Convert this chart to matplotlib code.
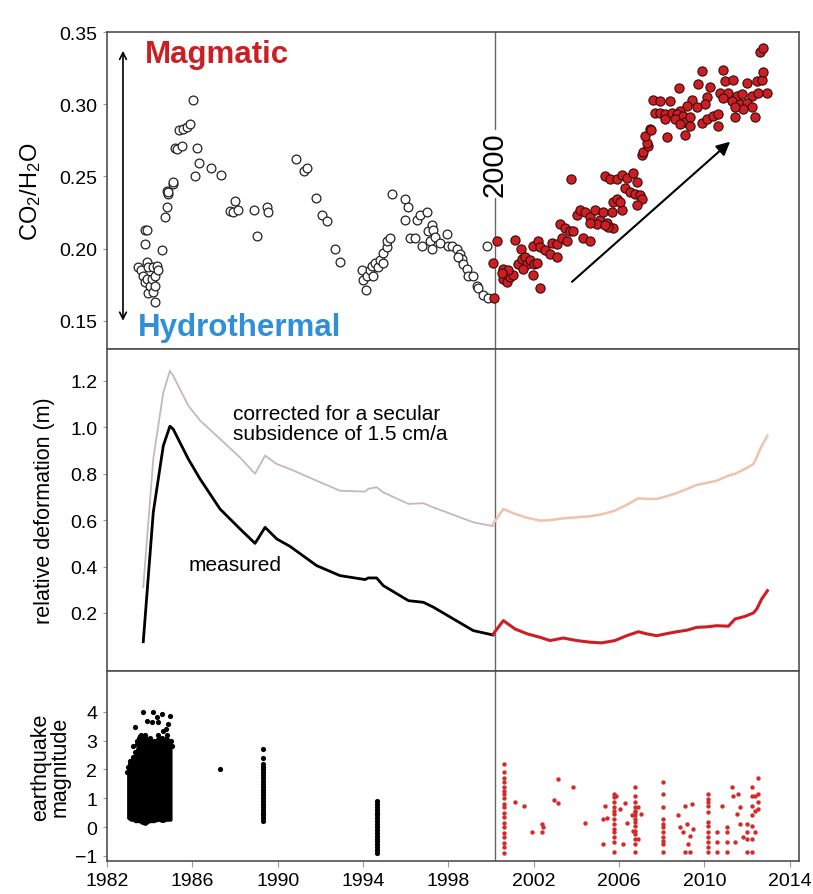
import numpy as np
import matplotlib
matplotlib.use("Agg")
import matplotlib.pyplot as plt

plt.rcParams['font.family'] = ['Liberation Sans', 'DejaVu Sans']
plt.rcParams['mathtext.fontset'] = 'custom'
plt.rcParams['mathtext.rm'] = 'Liberation Sans'
plt.rcParams['mathtext.it'] = 'Liberation Sans:italic'

# --- CO2/H2O ratio, before 2000 (open circles) ---
gas_old_t = [1983.47, 1983.59, 1983.70, 1983.78, 1983.78, 1983.78, 1983.86, 1983.86, 1983.86, 1983.94,
             1983.94, 1984.02, 1984.09, 1984.17, 1984.17, 1984.25, 1984.25, 1984.25, 1984.33, 1984.41,
             1984.56, 1984.72, 1984.80, 1984.80, 1984.88, 1984.88, 1985.11, 1985.11, 1985.19, 1985.30,
             1985.50, 1985.39, 1985.58, 1985.77, 1985.89, 1986.02, 1986.20, 1986.33, 1986.13, 1986.88,
             1987.34, 1987.77, 1987.92, 1988.00, 1988.16, 1988.89, 1989.02, 1989.48, 1989.53, 1990.84,
             1991.24, 1991.39, 1991.80, 1992.06, 1992.30, 1992.69, 1992.92, 1993.94, 1994.02, 1994.13,
             1994.17, 1994.33, 1994.41, 1994.48, 1994.56, 1994.72, 1994.80, 1994.95, 1994.95, 1995.11,
             1995.11, 1995.27, 1995.38, 1995.97, 1996.13, 1995.97, 1996.20, 1996.44, 1996.52, 1996.67,
             1996.98, 1996.75, 1997.06, 1997.22, 1997.30, 1997.14, 1997.38, 1997.61, 1997.22, 1997.92,
             1998.00, 1998.16, 1998.39, 1998.55, 1998.63, 1998.47, 1998.70, 1998.86, 1998.94, 1999.17,
             1999.33, 1999.41, 1999.64, 1999.88, 1999.80]
gas_old_v = [0.187, 0.185, 0.181, 0.213, 0.203, 0.177, 0.191, 0.179, 0.213, 0.187,
             0.169, 0.174, 0.179, 0.187, 0.170, 0.181, 0.174, 0.163, 0.188, 0.185,
             0.199, 0.222, 0.229, 0.240, 0.238, 0.239, 0.245, 0.246, 0.270, 0.269,
             0.271, 0.282, 0.283, 0.284, 0.286, 0.303, 0.270, 0.259, 0.250, 0.256,
             0.251, 0.226, 0.225, 0.233, 0.227, 0.227, 0.209, 0.229, 0.225, 0.262,
             0.254, 0.256, 0.235, 0.223, 0.219, 0.200, 0.191, 0.185, 0.178, 0.171,
             0.181, 0.185, 0.188, 0.181, 0.190, 0.187, 0.192, 0.190, 0.197, 0.201,
             0.205, 0.207, 0.238, 0.234, 0.229, 0.220, 0.207, 0.207, 0.220, 0.223,
             0.225, 0.202, 0.212, 0.216, 0.213, 0.205, 0.208, 0.204, 0.200, 0.210,
             0.202, 0.202, 0.200, 0.196, 0.193, 0.194, 0.189, 0.186, 0.181, 0.181,
             0.174, 0.173, 0.168, 0.166, 0.202]

# --- CO2/H2O ratio, after 2000 (red dots) ---
gas_new_t = [2000.14, 2000.11, 2000.30, 2001.13, 2001.39, 2000.58, 2000.66, 2000.55, 2000.74, 2000.89,
             2001.05, 2000.82, 2000.50, 2001.28, 2001.44, 2001.60, 2001.67, 2001.83, 2002.02, 2002.14,
             2001.52, 2001.96, 2002.30, 2001.99, 2002.22, 2002.30, 2002.53, 2002.77, 2003.08, 2002.85,
             2003.08, 2003.32, 2003.55, 2003.24, 2003.47, 2003.71, 2003.86, 2003.74, 2004.02, 2004.17,
             2004.41, 2004.64, 2004.88, 2005.11, 2005.27, 2005.42, 2005.66, 2005.74, 2005.89, 2006.13,
             2005.74, 2005.50, 2004.96, 2004.64, 2004.33, 2004.64, 2005.35, 2005.35, 2005.58, 2005.89,
             2006.13, 2006.36, 2006.67, 2006.83, 2006.28, 2006.52, 2006.75, 2006.99, 2007.07, 2006.83,
             2006.05, 2007.06, 2007.14, 2007.38, 2007.30, 2007.22, 2007.45, 2007.49,
             2008.24, 2009.09, 2007.61, 2007.92, 2008.39, 2008.81, 2009.72, 2010.27, 2009.88, 2010.86,
             2010.97, 2011.36, 2011.98, 2012.45, 2012.69, 2012.77, 2012.61, 2012.77, 2010.74, 2011.13,
             2011.52, 2011.75, 2012.22, 2012.53, 2012.92, 2010.11, 2010.03, 2009.41, 2009.17, 2009.64,
             2008.86, 2007.69, 2007.92, 2008.16, 2008.47, 2008.70, 2009.02, 2008.63, 2008.16, 2009.09,
             2009.33, 2008.86, 2009.33, 2009.88, 2010.11, 2010.42, 2010.66, 2010.66, 2011.44, 2012.38,
             2010.89, 2011.28, 2011.67, 2011.98, 2012.22, 2011.83, 2011.44]
gas_new_v = [0.166, 0.190, 0.205, 0.206, 0.200, 0.186, 0.182, 0.179, 0.177, 0.180,
             0.182, 0.185, 0.183, 0.189, 0.193, 0.194, 0.189, 0.192, 0.189, 0.190,
             0.186, 0.182, 0.173, 0.202, 0.205, 0.201, 0.199, 0.196, 0.194, 0.204,
             0.203, 0.207, 0.205, 0.217, 0.214, 0.212, 0.212, 0.248, 0.223, 0.227,
             0.225, 0.222, 0.227, 0.220, 0.225, 0.218, 0.225, 0.232, 0.234, 0.227,
             0.214, 0.215, 0.217, 0.218, 0.207, 0.205, 0.216, 0.250, 0.248, 0.248,
             0.251, 0.249, 0.252, 0.246, 0.242, 0.239, 0.238, 0.237, 0.234, 0.230,
             0.232, 0.265, 0.267, 0.271, 0.273, 0.278, 0.283, 0.282,
             0.277, 0.279, 0.303, 0.302, 0.302, 0.311, 0.314, 0.312, 0.323, 0.324,
             0.316, 0.317, 0.315, 0.316, 0.317, 0.322, 0.336, 0.339, 0.308, 0.308,
             0.306, 0.307, 0.306, 0.308, 0.308, 0.305, 0.300, 0.303, 0.299, 0.298,
             0.295, 0.294, 0.294, 0.293, 0.294, 0.293, 0.292, 0.290, 0.290, 0.288,
             0.291, 0.286, 0.285, 0.287, 0.290, 0.292, 0.293, 0.285, 0.291, 0.291,
             0.304, 0.302, 0.300, 0.301, 0.298, 0.297, 0.298]

# --- ground deformation ---
def_old_t = [1983.70, 1984.17, 1984.64, 1984.95, 1985.10, 1985.81, 1986.36, 1987.30, 1988.24, 1988.94,
             1989.41, 1989.96, 1990.58, 1991.83, 1992.92, 1994.10, 1994.25, 1994.64, 1994.95, 1996.13,
             1996.83, 1997.30, 1999.17, 2000.10]
measured_old = [0.076, 0.634, 0.921, 1.005, 0.993, 0.864, 0.778, 0.648, 0.562, 0.500,
                0.569, 0.519, 0.487, 0.404, 0.361, 0.344, 0.351, 0.351, 0.318, 0.253,
                0.246, 0.225, 0.124, 0.105]
corrected_old = [0.311, 0.864, 1.151, 1.244, 1.223, 1.094, 1.030, 0.950, 0.870, 0.800,
                 0.878, 0.842, 0.820, 0.770, 0.727, 0.723, 0.735, 0.742, 0.720, 0.670,
                 0.673, 0.655, 0.591, 0.574]

def_new_t = [2000.10, 2000.58, 2001.13, 2001.70, 2002.30, 2002.77, 2003.39, 2004.02, 2004.64, 2005.19,
             2005.81, 2006.36, 2006.91, 2007.30, 2007.77, 2008.30, 2008.71, 2009.20, 2009.64, 2010.10,
             2010.58, 2011.13, 2011.44, 2011.90, 2012.30, 2012.46, 2012.69, 2012.96]
measured_new = [0.109, 0.167, 0.131, 0.110, 0.095, 0.081, 0.092, 0.081, 0.074, 0.071,
                0.081, 0.102, 0.119, 0.110, 0.102, 0.112, 0.119, 0.126, 0.138, 0.140,
                0.145, 0.143, 0.174, 0.185, 0.200, 0.217, 0.260, 0.296]
corrected_new = [0.584, 0.648, 0.627, 0.610, 0.598, 0.600, 0.608, 0.612, 0.617, 0.625,
                 0.641, 0.666, 0.694, 0.692, 0.691, 0.705, 0.717, 0.735, 0.752, 0.760,
                 0.770, 0.792, 0.800, 0.820, 0.842, 0.871, 0.920, 0.964]

# --- earthquakes ---
eq_block_t = [1982.92, 1983.00, 1983.10, 1983.20, 1983.30, 1983.40, 1983.50, 1983.60, 1983.80, 1984.00,
              1984.20, 1984.40, 1984.60, 1984.80, 1985.00, 1985.05]
eq_block_top = [1.9, 2.1, 2.2, 2.4, 2.6, 2.9, 3.1, 3.2, 3.2, 3.1, 3.0, 3.2, 3.1, 3.2, 3.0, 2.8]
eq_block_bot = [0.3, 0.25, 0.2, 0.2, 0.15, 0.15, 0.15, 0.1, 0.05, 0.15, 0.15, 0.2, 0.15, 0.2, 0.2, 0.25]

eq_black_t = [1983.23, 1983.23, 1983.31, 1983.55, 1983.70, 1983.86, 1984.09, 1984.17, 1984.33, 1984.41,
              1984.56, 1984.64, 1984.88, 1984.95, 1983.10, 1983.40, 1984.75, 1987.30] + \
             [1989.33] * 23 + [1994.64] * 19
eq_black_m = [2.42, 2.82, 3.46, 3.17, 3.98, 3.69, 3.63, 3.98, 3.81, 3.63,
              3.92, 3.34, 3.58, 3.86, 2.3, 3.0, 3.4, 2.0] + \
             [2.7, 2.4, 2.2, 2.1, 2.0, 1.9, 1.8, 1.7, 1.6, 1.5, 1.4, 1.3, 1.2, 1.1, 1.0, 0.9,
              0.8, 0.7, 0.6, 0.5, 0.4, 0.3, 0.2] + \
             [0.9, 0.8, 0.7, 0.6, 0.5, 0.4, 0.3, 0.2, 0.1, 0.0, -0.1, -0.2, -0.3, -0.4, -0.5,
              -0.6, -0.7, -0.8, -0.9]

eq_red_t = [2000.61] * 19 + [2001.13, 2001.56, 2001.91, 2002.41, 2002.46, 2002.41, 2002.97, 2003.16,
            2003.13, 2003.86, 2004.41, 2005.27, 2005.35, 2005.42, 2005.27] + [2005.77] * 13 + \
           [2005.86, 2006.05, 2006.21, 2006.28, 2006.36] + [2006.75] * 15 + \
           [2006.60, 2006.90, 2007.05, 2006.68, 2006.90] + [2008.05] * 11 + \
           [2008.78, 2008.86, 2009.10, 2009.02, 2009.25, 2009.33, 2009.41, 2009.49, 2009.17, 2009.10,
            2009.33] + [2010.19] * 12 + \
           [2010.58, 2010.58, 2010.58, 2010.82, 2011.05, 2011.05, 2011.05, 2011.05, 2011.28, 2011.36,
            2011.44, 2011.52, 2011.60, 2011.67, 2011.67, 2011.83, 2011.99, 2011.99, 2011.99, 2011.99] + \
           [2012.22] * 7 + [2012.38] * 3 + [2012.53] * 4
eq_red_m = [2.2, 1.9, 1.7, 1.55, 1.4, 1.25, 1.15, 1.0, 0.8, 0.7, 0.5, 0.35, 0.15, 0.0, -0.2, -0.35,
            -0.55, -0.7, -0.9] + \
           [0.86, 0.74, -0.16, 0.10, -0.01, -0.18, 0.95, 0.84, 1.67, 1.38, 0.13, 0.28, 0.74, 0.30, -0.59] + \
           [1.15, 1.03, 0.86, 0.68, 0.57, 0.45, 0.28, 0.11, -0.07, -0.18, -0.36, -0.53, -0.88] + \
           [1.09, 0.63, -0.59, 0.84, 0.13] + \
           [1.38, 1.09, 0.86, 0.68, 0.57, 0.51, 0.40, 0.28, 0.16, 0.05, -0.13, -0.24, -0.41, -0.59, -0.88] + \
           [0.40, 0.68, 0.45, -0.13, -0.41] + \
           [1.55, 1.15, 0.68, 0.28, 0.11, -0.01, -0.18, -0.36, -0.48, -0.59, -0.88] + \
           [0.42, -0.01, 0.74, -0.18, -0.59, -0.88, 0.80, -0.07, 0.11, -0.88, -0.30] + \
           [1.15, 0.97, 0.86, 0.74, 0.51, 0.16, 0.05, -0.18, -0.36, -0.53, -0.70, -0.88] + \
           [-0.18, -0.53, -0.88, 0.74, -0.01, -0.18, -0.53, -0.88, 1.38, 1.09,
            -0.53, 0.45, 1.15, 0.68, 0.11, -0.36, 0.11, -0.18, -0.41, -0.88] + \
           [1.38, 1.09, 0.74, 0.40, 0.05, -0.41, -0.88] + [1.09, 0.57, -0.18] + [1.69, 1.15, 0.86, 0.63]

year_ticks = [1982, 1986, 1990, 1994, 1998, 2002, 2006, 2010, 2014]

RED = '#cc1f24'
FRAME = '#505050'

fig = plt.figure(figsize=(8.13, 8.95), dpi=100)
left, width = 0.1316, 0.8512
ax1 = fig.add_axes([left, 0.6089, width, 0.3542])
ax2 = fig.add_axes([left, 0.2492, width, 0.3598])
ax3 = fig.add_axes([left, 0.0369, width, 0.2123])

for ax in (ax1, ax2, ax3):
    ax.set_xlim(1982, 2014.44)
    for sp in ax.spines.values():
        sp.set_color(FRAME)
        sp.set_linewidth(1.2)
    ax.tick_params(axis='y', direction='out', length=3, width=0.8, color='#999999',
                   labelsize=14, pad=4)
    ax.axvline(2000.18, color='#666666', lw=1.0, zorder=1)

for ax in (ax1, ax2):
    ax.set_xticks([])

# top panel
ax1.set_ylim(0.1304, 0.350)
ax1.set_yticks([0.15, 0.20, 0.25, 0.30, 0.35])
ax1.set_yticklabels(['0.15', '0.20', '0.25', '0.30', '0.35'])
ax1.scatter(gas_old_t, gas_old_v, s=40, facecolor='white', edgecolor='#222222',
            linewidth=0.9, zorder=3)
ax1.scatter(gas_new_t, gas_new_v, s=44, facecolor=RED, edgecolor='#3a0a0a',
            linewidth=0.8, zorder=3)
ax1.set_ylabel(r'CO$_2$/H$_2$O', fontsize=17, va='center')
ax1.yaxis.set_label_coords(-0.111, 0.5)
ax1.annotate('', xy=(1982.75, 0.337), xytext=(1982.75, 0.150),
             arrowprops=dict(arrowstyle='<->', color='black', lw=1.2,
                             mutation_scale=12, shrinkA=0, shrinkB=0))
ax1.annotate('', xy=(2011.21, 0.274), xytext=(2003.8, 0.177),
             arrowprops=dict(arrowstyle='-|>', color='black', lw=1.5,
                             mutation_scale=20, shrinkA=0, shrinkB=0))
ax1.text(1983.78, 0.3347, 'Magmatic', color=RED, fontsize=22.5, fontweight='bold',
         ha='left', va='center')
ax1.text(1983.45, 0.1457, 'Hydrothermal', color='#2f8fd8', fontsize=22.5,
         fontweight='bold', ha='left', va='center')
ax1.text(2000.18, 0.2586, '2000', rotation=90, fontsize=21, ha='center', va='center',
         bbox=dict(facecolor='white', edgecolor='none', pad=1), zorder=4)

# middle panel
ax2.set_ylim(-0.05, 1.338)
ax2.set_yticks([0.2, 0.4, 0.6, 0.8, 1.0, 1.2])
ax2.set_yticklabels(['0.2', '0.4', '0.6', '0.8', '1.0', '1.2'])
ax2.plot(def_old_t, corrected_old, color='#c4b9b9', lw=1.3, zorder=2)
ax2.plot(def_new_t, corrected_new, color='#f0c2ae', lw=1.8, zorder=2)
ax2.plot(def_old_t, measured_old, color='black', lw=2.0, zorder=3)
ax2.plot(def_new_t, measured_new, color=RED, lw=2.2, zorder=3)
ax2.text(1987.91, 1.017, 'corrected for a secular\nsubsidence of 1.5 cm/a', fontsize=15,
         ha='left', va='center', linespacing=1.05)
ax2.text(1985.84, 0.411, 'measured', fontsize=15, ha='left', va='center')
ax2.set_ylabel('relative deformation (m)', fontsize=15.5, va='center')
ax2.yaxis.set_label_coords(-0.091, 0.5)

# bottom panel
ax3.set_ylim(-1.18, 5.42)
ax3.set_yticks([-1, 0, 1, 2, 3, 4])
ax3.fill_between(eq_block_t, eq_block_bot, eq_block_top, color='black', lw=0, zorder=2)
ax3.scatter(eq_block_t, eq_block_top, s=14, color='black', lw=0, zorder=2)
ax3.scatter(eq_black_t, eq_black_m, s=14, color='black', lw=0, zorder=3)
ax3.scatter(eq_red_t, eq_red_m, s=10, color='#d42a2a', lw=0, zorder=3)
ax3.set_xticks(year_ticks)
ax3.tick_params(axis='x', direction='out', length=4, width=0.8, color='#999999',
                labelsize=14, pad=4)
ax3.set_ylabel('earthquake\nmagnitude', fontsize=15.5, linespacing=0.95, va='center')
ax3.yaxis.set_label_coords(-0.082, 0.5)

fig.savefig('out.png', dpi=100)
